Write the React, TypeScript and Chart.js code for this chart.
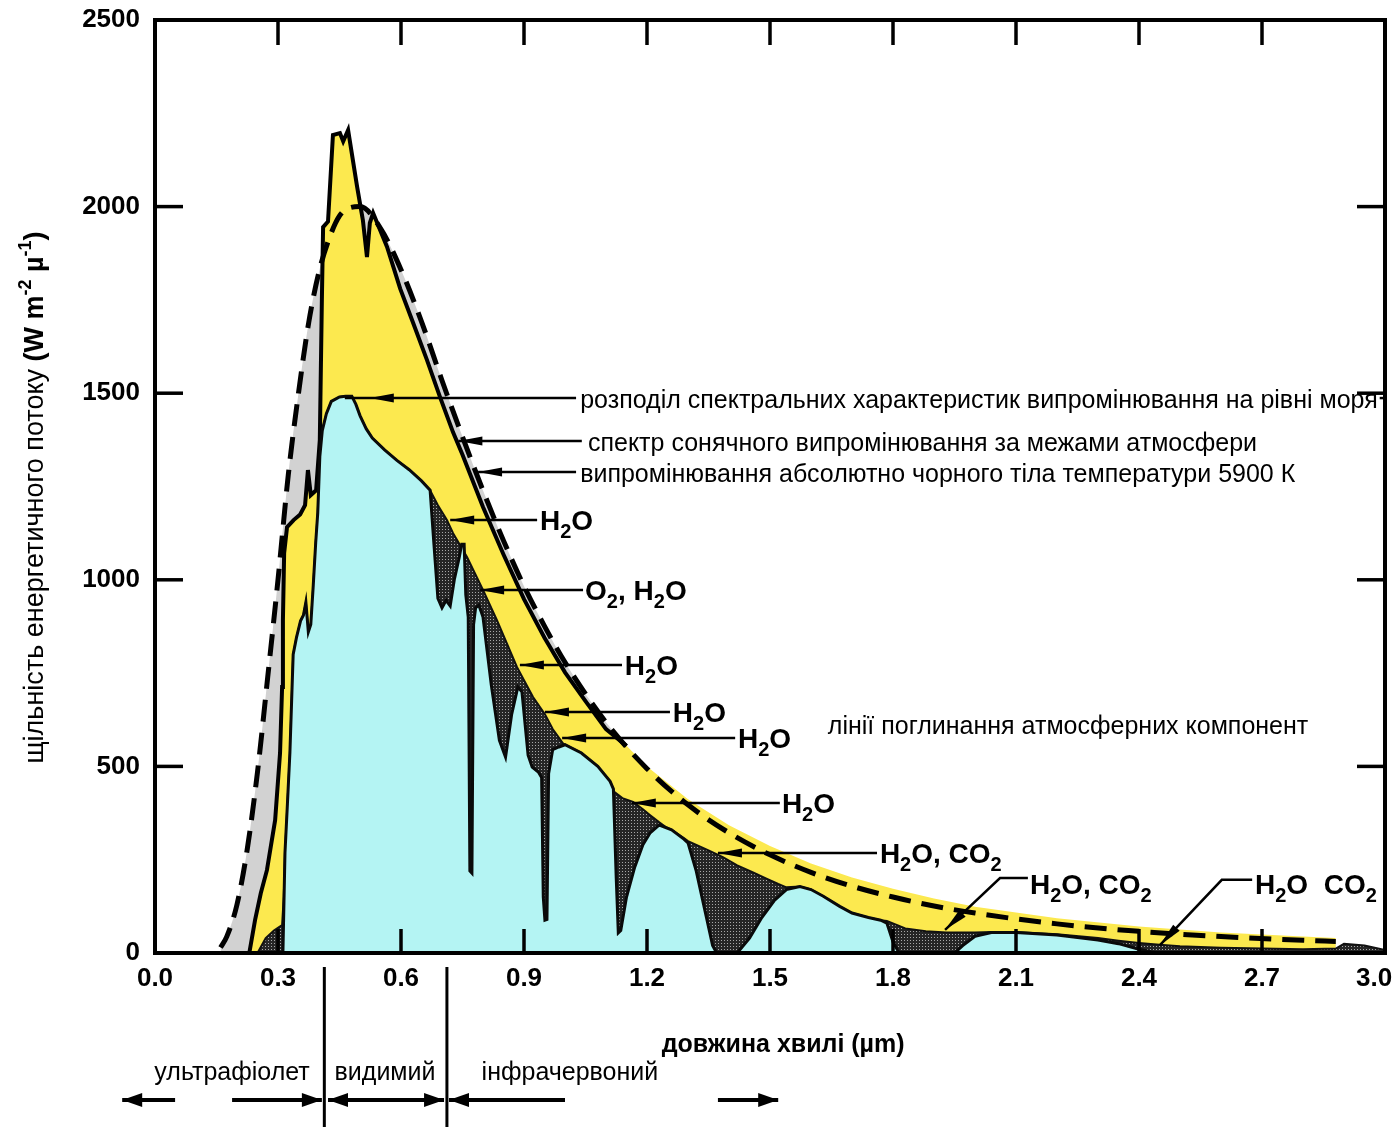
import React, { useEffect, useRef } from "react";
import { Chart, registerables } from "chart.js";

Chart.register(...registerables);

// ---------- data (wavelength in µm, flux in W m-2 µ-1) ----------
const bbWl = [0.16, 0.175, 0.2, 0.225, 0.25, 0.275, 0.3, 0.325, 0.35, 0.375, 0.4, 0.425, 0.45, 0.475, 0.5, 0.55, 0.6, 0.65, 0.7, 0.75, 0.8, 0.85, 0.9, 0.95, 1.0, 1.1, 1.2, 1.3, 1.4, 1.5, 1.6, 1.7, 1.8, 1.9, 2.0, 2.2, 2.4, 2.6, 2.8, 2.88];
const bbVal = [15, 44, 130, 278, 485, 740, 1000, 1280, 1500, 1690, 1825, 1915, 1975, 1997, 2000, 1942, 1831, 1692, 1534, 1383, 1239, 1105, 983, 876, 779, 618, 494, 397, 322, 263, 216, 179, 150, 126, 107, 78, 58, 44, 34, 31];

const etWl = [0.23, 0.244, 0.258, 0.273, 0.293, 0.305, 0.31, 0.312, 0.315, 0.322, 0.338, 0.354, 0.366, 0.373, 0.38, 0.393, 0.402, 0.407, 0.41, 0.422, 0.434, 0.451, 0.459, 0.471, 0.493, 0.507, 0.517, 0.524, 0.532, 0.566, 0.598, 0.629, 0.663, 0.695, 0.727, 0.75, 0.8, 0.85, 0.9, 0.95, 1.0, 1.05, 1.1, 1.15, 1.2, 1.3, 1.4, 1.5, 1.6, 1.7, 1.8, 1.9, 2.0, 2.2, 2.4, 2.6, 2.8, 2.88];
const etVal = [0, 88, 160, 222, 356, 536, 713, 892, 1072, 1141, 1160, 1175, 1200, 1294, 1227, 1240, 1375, 1750, 1945, 1960, 2192, 2197, 2175, 2205, 2053, 1964, 1865, 1956, 1983, 1892, 1780, 1690, 1590, 1490, 1395, 1335, 1195, 1068, 948, 845, 752, 675, 600, 555, 500, 412, 342, 287, 240, 202, 172, 146, 124, 93, 71, 55, 44, 40];
const etLineEnd = 1.15; // the solid outline of the extraterrestrial curve stops here

const envWl = [0.25, 0.27, 0.29, 0.31, 0.314, 0.317, 0.323, 0.329, 0.337, 0.345, 0.355, 0.362, 0.368, 0.374, 0.38, 0.386, 0.392, 0.397, 0.402, 0.408, 0.418, 0.43, 0.45, 0.465, 0.48, 0.49, 0.5, 0.515, 0.53, 0.56, 0.59, 0.62, 0.65, 0.671, 0.69, 0.712, 0.727, 0.761, 0.8, 0.834, 0.883, 0.922, 0.951, 0.97, 0.995, 1.0, 1.04, 1.08, 1.11, 1.12, 1.14, 1.166, 1.19, 1.207, 1.23, 1.245, 1.26, 1.29, 1.3, 1.35, 1.385, 1.42, 1.46, 1.49, 1.52, 1.54, 1.573, 1.6, 1.63, 1.67, 1.7, 1.74, 1.77, 1.785, 1.83, 1.88, 1.93, 1.97, 2.0, 2.04, 2.1, 2.2, 2.3, 2.35, 2.4, 2.45, 2.5, 2.6, 2.7, 2.8, 2.88, 2.9, 2.95, 3.0];
const envVal = [0, 40, 60, 75, 150, 268, 400, 536, 800, 845, 890, 905, 940, 860, 880, 985, 1100, 1180, 1330, 1400, 1445, 1478, 1490, 1492, 1492, 1470, 1440, 1405, 1380, 1348, 1320, 1295, 1265, 1240, 1200, 1160, 1125, 1061, 973, 892, 766, 686, 640, 600, 562, 558, 536, 500, 460, 432, 415, 405, 385, 370, 350, 338, 330, 308, 300, 275, 257, 235, 215, 200, 185, 176, 178, 170, 152, 125, 107, 95, 88, 86, 66, 58, 55, 55, 55, 56, 56, 50, 40, 33, 27, 22, 18, 14, 12, 10, 12, 25, 20, 8];

const seaWl = [0.3, 0.312, 0.317, 0.323, 0.329, 0.337, 0.345, 0.355, 0.362, 0.368, 0.374, 0.38, 0.386, 0.392, 0.397, 0.402, 0.408, 0.418, 0.43, 0.45, 0.465, 0.48, 0.49, 0.5, 0.515, 0.53, 0.56, 0.59, 0.62, 0.65, 0.671, 0.68, 0.69, 0.7, 0.71, 0.72, 0.73, 0.742, 0.748, 0.754, 0.758, 0.764, 0.768, 0.773, 0.777, 0.782, 0.79, 0.8, 0.82, 0.84, 0.855, 0.87, 0.885, 0.895, 0.91, 0.92, 0.935, 0.943, 0.947, 0.951, 0.956, 0.96, 0.97, 0.985, 1.0, 1.04, 1.08, 1.11, 1.118, 1.125, 1.13, 1.136, 1.15, 1.17, 1.19, 1.207, 1.23, 1.26, 1.29, 1.3, 1.32, 1.34, 1.36, 1.37, 1.42, 1.45, 1.48, 1.51, 1.54, 1.573, 1.6, 1.63, 1.67, 1.7, 1.74, 1.77, 1.785, 1.8, 1.815, 1.95, 1.97, 2.0, 2.04, 2.1, 2.2, 2.3, 2.35, 2.4, 2.43, 2.45, 3.0];
const seaVal = [0, 0, 268, 400, 536, 800, 845, 890, 905, 940, 860, 880, 985, 1100, 1180, 1330, 1400, 1445, 1478, 1490, 1492, 1492, 1470, 1440, 1405, 1380, 1348, 1320, 1295, 1265, 1240, 1100, 950, 925, 945, 930, 1000, 1060, 1095, 1095, 960, 900, 220, 214, 880, 925, 932, 900, 720, 570, 525, 640, 713, 700, 530, 498, 485, 470, 150, 88, 90, 480, 545, 552, 558, 536, 500, 460, 440, 200, 54, 60, 150, 230, 290, 321, 343, 330, 305, 295, 220, 120, 20, 0, 0, 40, 95, 140, 170, 178, 170, 152, 125, 107, 95, 88, 80, 30, 0, 0, 20, 45, 55, 55, 48, 35, 25, 10, 3, 0, 0];

// ---------- labels ----------
const yTitleParts: [string, string][] = [
  ["щільність енергетичного потоку ", "yn"],
  ["(W m", "yb"],
  ["-2", "ysup"],
  [" µ", "yb"],
  ["-1", "ysup"],
  [")", "yb"],
];
const xTitle = "довжина хвилі (µm)";
const regionLabels = [
  { text: "ультрафіолет", at: 0.188 },
  { text: "видимий", at: 0.561 },
  { text: "інфрачервоний", at: 1.012 },
];
const regionBounds = [0.413, 0.712];
const regionArrows = [
  { from: 0.049, to: -0.08, both: false },
  { from: 0.188, to: 0.407, both: false },
  { from: 0.705, to: 0.422, both: true },
  { from: 1.0, to: 0.717, both: false },
  { from: 1.373, to: 1.52, both: false },
];

const H2O: [string, string][] = [["H", "b"], ["2", "sub"], ["O", "b"]];
const O2H2O: [string, string][] = [["O", "b"], ["2", "sub"], [", H", "b"], ["2", "sub"], ["O", "b"]];
const H2OCO2: [string, string][] = [["H", "b"], ["2", "sub"], ["O, CO", "b"], ["2", "sub"]];
const H2O_CO2: [string, string][] = [["H", "b"], ["2", "sub"], ["O  CO", "b"], ["2", "sub"]];

type Note = {
  parts: [string, string][];
  text: [number, number];
  path?: [number, number][];
  head?: number;
  tail?: boolean;
};

const notes: Note[] = [
  { parts: [["розподіл спектральних характеристик випромінювання на рівні моря", "n"]], text: [1.037, 1482], path: [[1.027, 1487], [0.463, 1487]], head: 0.524, tail: true },
  { parts: [["спектр сонячного випромінювання за межами атмосфери", "n"]], text: [1.056, 1367], path: [[1.041, 1372], [0.74, 1372]] },
  { parts: [["випромінювання абсолютно чорного тіла температури 5900 К", "n"]], text: [1.037, 1284], path: [[1.027, 1289], [0.788, 1289]] },
  { parts: H2O, text: [0.939, 1160], path: [[0.932, 1160], [0.72, 1160]] },
  { parts: O2H2O, text: [1.049, 973], path: [[1.044, 973], [0.793, 973]] },
  { parts: H2O, text: [1.146, 772], path: [[1.139, 772], [0.89, 772]] },
  { parts: H2O, text: [1.263, 646], path: [[1.256, 646], [0.951, 646]] },
  { parts: H2O, text: [1.422, 576], path: [[1.415, 576], [0.993, 576]] },
  { parts: [["лінії поглинання атмосферних компонент", "n"]], text: [1.641, 608] },
  { parts: H2O, text: [1.529, 402], path: [[1.524, 402], [1.163, 402]] },
  { parts: H2OCO2, text: [1.768, 268], path: [[1.761, 268], [1.373, 268]] },
  { parts: H2OCO2, text: [2.134, 185], path: [[2.129, 201], [2.061, 201], [1.927, 62]] },
  { parts: H2O_CO2, text: [2.683, 185], path: [[2.676, 196], [2.602, 196], [2.451, 21]] },
];

// ---------- styles ----------
const FAM = '"Liberation Sans", Arial, sans-serif';
const FONTS: Record<string, { font: string; dy: number }> = {
  n: { font: `25px ${FAM}`, dy: 0 },
  b: { font: `bold 28px ${FAM}`, dy: 0 },
  sub: { font: `bold 20px ${FAM}`, dy: 8 },
  yn: { font: `27px ${FAM}`, dy: 0 },
  yb: { font: `bold 27px ${FAM}`, dy: 0 },
  ysup: { font: `bold 18px ${FAM}`, dy: -12 },
};
const YELLOW = "#fce94f";
const CYAN = "#b4f4f3";
const GRAY = "#d2d2d2";

const pts = (xs: number[], ys: number[]) => xs.map((x, i) => ({ x, y: ys[i] }));

function partsWidth(ctx: CanvasRenderingContext2D, parts: [string, string][]) {
  let w = 0;
  for (const [t, k] of parts) {
    ctx.font = FONTS[k].font;
    w += ctx.measureText(t).width;
  }
  return w;
}
function drawParts(ctx: CanvasRenderingContext2D, parts: [string, string][], x: number, base: number) {
  let cx = x;
  for (const [t, k] of parts) {
    const f = FONTS[k];
    ctx.font = f.font;
    ctx.fillText(t, cx, base + f.dy);
    cx += ctx.measureText(t).width;
  }
  return cx;
}
function head(ctx: CanvasRenderingContext2D, tx: number, ty: number, fx: number, fy: number, len: number, half: number) {
  const dx = fx - tx, dy = fy - ty;
  const d = Math.hypot(dx, dy) || 1;
  const ux = dx / d, uy = dy / d;
  const bx = tx + ux * len, by = ty + uy * len;
  ctx.beginPath();
  ctx.moveTo(tx, ty);
  ctx.lineTo(bx - uy * half, by + ux * half);
  ctx.lineTo(bx + uy * half, by - ux * half);
  ctx.closePath();
  ctx.fill();
}

const overlay = {
  id: "overlay",
  afterDraw(chart: any) {
    const { ctx, chartArea: ca, scales } = chart;
    const xs = scales.x, ys = scales.y;
    const px = (v: number) => xs.getPixelForValue(v);
    const py = (v: number) => ys.getPixelForValue(v);
    const H = chart.height;
    ctx.save();
    ctx.strokeStyle = "#000";
    ctx.fillStyle = "#000";
    const seg = (x1: number, y1: number, x2: number, y2: number) => {
      ctx.beginPath(); ctx.moveTo(x1, y1); ctx.lineTo(x2, y2); ctx.stroke();
    };
    // inner ticks
    ctx.lineWidth = 3.5;
    xs.ticks.forEach((t: any) => {
      if (t.value <= xs.min + 1e-6 || t.value >= xs.max - 1e-6) return;
      const x = px(t.value);
      seg(x, ca.top, x, ca.top + 25);
      seg(x, ca.bottom, x, ca.bottom - 24);
    });
    ys.ticks.forEach((t: any) => {
      if (t.value <= ys.min || t.value >= ys.max) return;
      const y = py(t.value);
      seg(ca.left, y, ca.left + 28, y);
      seg(ca.right, y, ca.right - 28, y);
    });
    // frame
    ctx.lineWidth = 4;
    ctx.strokeRect(ca.left, ca.top, ca.right - ca.left, ca.bottom - ca.top);

    // annotations with arrows
    ctx.textAlign = "left";
    ctx.textBaseline = "alphabetic";
    for (const n of notes) {
      const tx = px(n.text[0]);
      const tyc = py(n.text[1]);
      const isBold = n.parts[0][1] === "b";
      const base = tyc + (isBold ? 10 : 8);
      const end = drawParts(ctx, n.parts, tx, base);
      if (n.path) {
        ctx.lineWidth = 2.5;
        ctx.beginPath();
        n.path.forEach(([a, b], i) => (i ? ctx.lineTo(px(a), py(b)) : ctx.moveTo(px(a), py(b))));
        ctx.stroke();
        const last = n.path[n.path.length - 1];
        const prev = n.path[n.path.length - 2];
        if (n.head !== undefined) {
          head(ctx, px(n.head), py(last[1]), px(prev[0]), py(prev[1]), 24, 4.5);
        } else {
          head(ctx, px(last[0]), py(last[1]), px(prev[0]), py(prev[1]), 24, 4.5);
        }
        if (n.tail) seg(end + 2, py(n.path[0][1]), ca.right, py(n.path[0][1]));
      }
    }

    // x title and region labels
    ctx.textAlign = "center";
    ctx.font = `bold 25px ${FAM}`;
    ctx.fillText(xTitle, px(1.532), ca.bottom + 99);
    ctx.font = `25px ${FAM}`;
    for (const r of regionLabels) ctx.fillText(r.text, px(r.at), ca.bottom + 127);
    // region boundaries
    ctx.lineWidth = 3;
    for (const b of regionBounds) seg(px(b), ca.bottom + 14, px(b), H);
    // region arrows
    const ay = ca.bottom + 147;
    ctx.lineWidth = 4;
    for (const a of regionArrows) {
      seg(px(a.from), ay, px(a.to), ay);
      head(ctx, px(a.to), ay, px(a.from), ay, 20, 7);
      if (a.both) head(ctx, px(a.from), ay, px(a.to), ay, 20, 7);
    }

    // y title (rotated)
    ctx.save();
    ctx.translate(43, (ca.top + ca.bottom) / 2 + 11);
    ctx.rotate(-Math.PI / 2);
    ctx.textAlign = "left";
    const w = partsWidth(ctx, yTitleParts);
    drawParts(ctx, yTitleParts, -w / 2, 0);
    ctx.restore();

    ctx.restore();
  },
};

export default function App() {
  const ref = useRef<HTMLCanvasElement>(null);
  useEffect(() => {
    document.body.style.margin = "0";
    const canvas = ref.current!;
    const pc = document.createElement("canvas");
    pc.width = 3; pc.height = 3;
    const p = pc.getContext("2d")!;
    p.fillStyle = "#262626"; p.fillRect(0, 0, 3, 3);
    p.fillStyle = "#a8a8a8"; p.fillRect(1, 1, 1, 1);
    const hatch = canvas.getContext("2d")!.createPattern(pc, "repeat");

    const etPts = pts(etWl, etVal);
    const etLinePts = etPts.filter((d) => d.x <= etLineEnd);

    const chart = new Chart(canvas, {
      type: "line",
      data: {
        datasets: [
          { label: "Чорне тіло 5900 К", data: pts(bbWl, bbVal), borderColor: "#000", borderWidth: 5, borderDash: [22, 11], fill: false, cubicInterpolationMode: "monotone", order: 0 },
          { label: "На рівні моря", data: pts(seaWl, seaVal), borderColor: "#0a0a0a", borderWidth: 3, backgroundColor: CYAN, fill: "origin", order: 1 },
          { label: "Поглинання", data: pts(envWl, envVal), borderColor: "#111", borderWidth: 2, backgroundColor: hatch as any, fill: "origin", order: 2 },
          { label: "За межами атмосфери (контур)", data: etLinePts, borderColor: "#000", borderWidth: 4, fill: false, order: 3 },
          { label: "За межами атмосфери", data: etPts, borderColor: "rgba(0,0,0,0)", borderWidth: 0, backgroundColor: YELLOW, fill: "origin", order: 4 },
          { label: "Чорне тіло (заливка)", data: pts(bbWl, bbVal), borderColor: "rgba(0,0,0,0)", borderWidth: 0, backgroundColor: GRAY, fill: "origin", cubicInterpolationMode: "monotone", order: 5 },
        ] as any,
      },
      options: {
        responsive: false,
        animation: false,
        devicePixelRatio: 1,
        layout: { padding: { top: 20, right: 12, bottom: 0, left: 0 } },
        elements: { point: { radius: 0 }, line: { tension: 0 } },
        plugins: { legend: { display: false }, tooltip: { enabled: false } },
        scales: {
          x: {
            type: "linear", min: 0, max: 3,
            grid: { display: false, drawTicks: false }, border: { display: false },
            ticks: {
              stepSize: 0.3, autoSkip: false, maxRotation: 0, padding: 10, color: "#000",
              font: { family: FAM, size: 26, weight: "bold" },
              callback: (v: any) => (Number(v) >= 3 ? "3.0   " : Number(v).toFixed(1)),
            },
            afterFit: (s: any) => { s.height = 174; s.paddingLeft = 0; s.paddingRight = 0; },
          },
          y: {
            type: "linear", min: 0, max: 2500,
            grid: { display: false, drawTicks: false }, border: { display: false },
            ticks: { stepSize: 500, padding: 15, color: "#000", font: { family: FAM, size: 26, weight: "bold" }, callback: (v: any) => String(v) },
            afterFit: (s: any) => { s.width = 155; s.paddingTop = 0; s.paddingBottom = 0; },
          },
        },
      } as any,
      plugins: [overlay],
    });
    return () => chart.destroy();
  }, []);
  return (
    <div style={{ position: "relative", width: 1397, height: 1127 }}>
      <canvas ref={ref} width={1397} height={1127} style={{ position: "absolute", left: 0, top: 0 }} />
    </div>
  );
}
